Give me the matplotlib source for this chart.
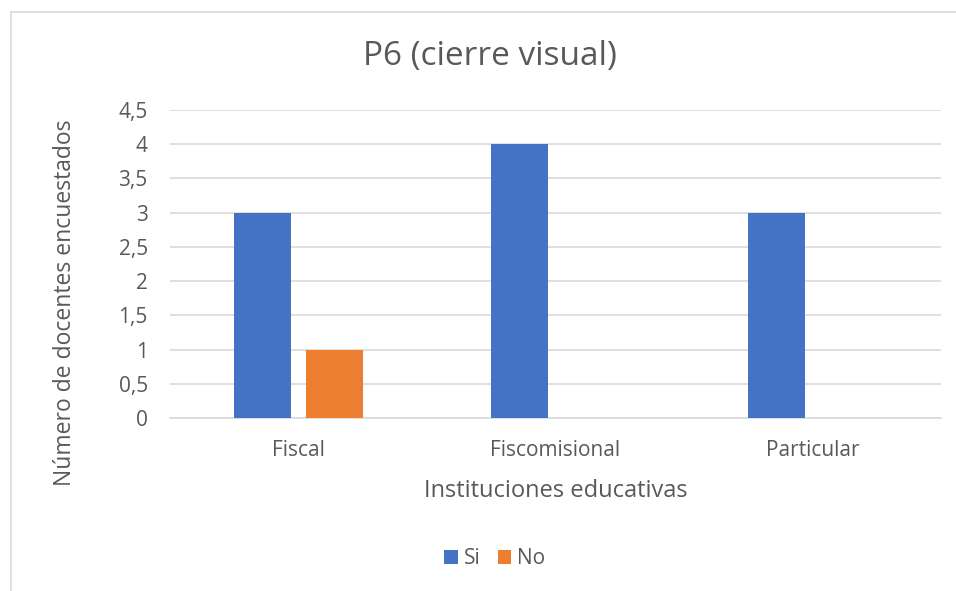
import numpy as np
import matplotlib.pyplot as plt
from matplotlib.patches import Rectangle

# data
categories = ["Fiscal", "Fiscomisional", "Particular"]
si_values = [3, 4, 3]
no_values = [1, 0, 0]
series_names = ["Si", "No"]
y_ticks = [0, 0.5, 1, 1.5, 2, 2.5, 3, 3.5, 4, 4.5]
y_tick_labels = ["0", "0,5", "1", "1,5", "2", "2,5", "3", "3,5", "4", "4,5"]

plt.rcParams['font.family'] = ['Open Sans', 'DejaVu Sans']
text_color = "#595959"

fig = plt.figure(figsize=(9.56, 5.91), dpi=100)
ax = fig.add_axes([170/956, 1-418/591, (941-170)/956, (418-110)/591])

# chart border (top and left visible)
fig.patches.append(Rectangle((11/956, -0.1), 1.2, 1-12/591+0.1, transform=fig.transFigure,
                             fill=False, edgecolor="#D9D9D9", linewidth=1.2))

x = np.arange(len(categories))
w = 0.222
off = 0.14
ax.bar(x - off, si_values, w, color="#4472C4", label=series_names[0], zorder=3)
ax.bar(x + off, no_values, w, color="#ED7D31", label=series_names[1], zorder=3)

ax.set_xlim(-0.5, 2.5)
ax.set_ylim(0, 4.5)
ax.set_yticks(y_ticks)
ax.set_yticklabels(y_tick_labels)
ax.set_xticks(x)
ax.set_xticklabels(categories)
ax.grid(axis="y", color="#D9D9D9", linewidth=1.2, zorder=0)
for s in ["top", "right", "left"]:
    ax.spines[s].set_visible(False)
ax.spines["bottom"].set_color("#D9D9D9")
ax.spines["bottom"].set_linewidth(1.2)
ax.tick_params(axis="both", length=0, labelsize=15, labelcolor=text_color)
ax.tick_params(axis="y", pad=16)
ax.tick_params(axis="x", pad=16)

ax.set_ylabel("Número de docentes encuestados", fontsize=16.5, color=text_color)
ax.yaxis.set_label_coords(-0.12, (418-303)/308)
ax.set_xlabel("Instituciones educativas", fontsize=17, color=text_color, labelpad=13)
fig.text(490/956, 1-57/591, "P6 (cierre visual)", fontsize=24, color=text_color,
         ha="center", va="center")

leg = fig.legend(loc="center", bbox_to_anchor=(495/956, 1-559/591), ncol=2, frameon=False,
                 fontsize=15, handlelength=0.65, handleheight=0.65, handletextpad=0.3,
                 columnspacing=0.8)
for t in leg.get_texts():
    t.set_color(text_color)

fig.savefig("out.png", dpi=100)
